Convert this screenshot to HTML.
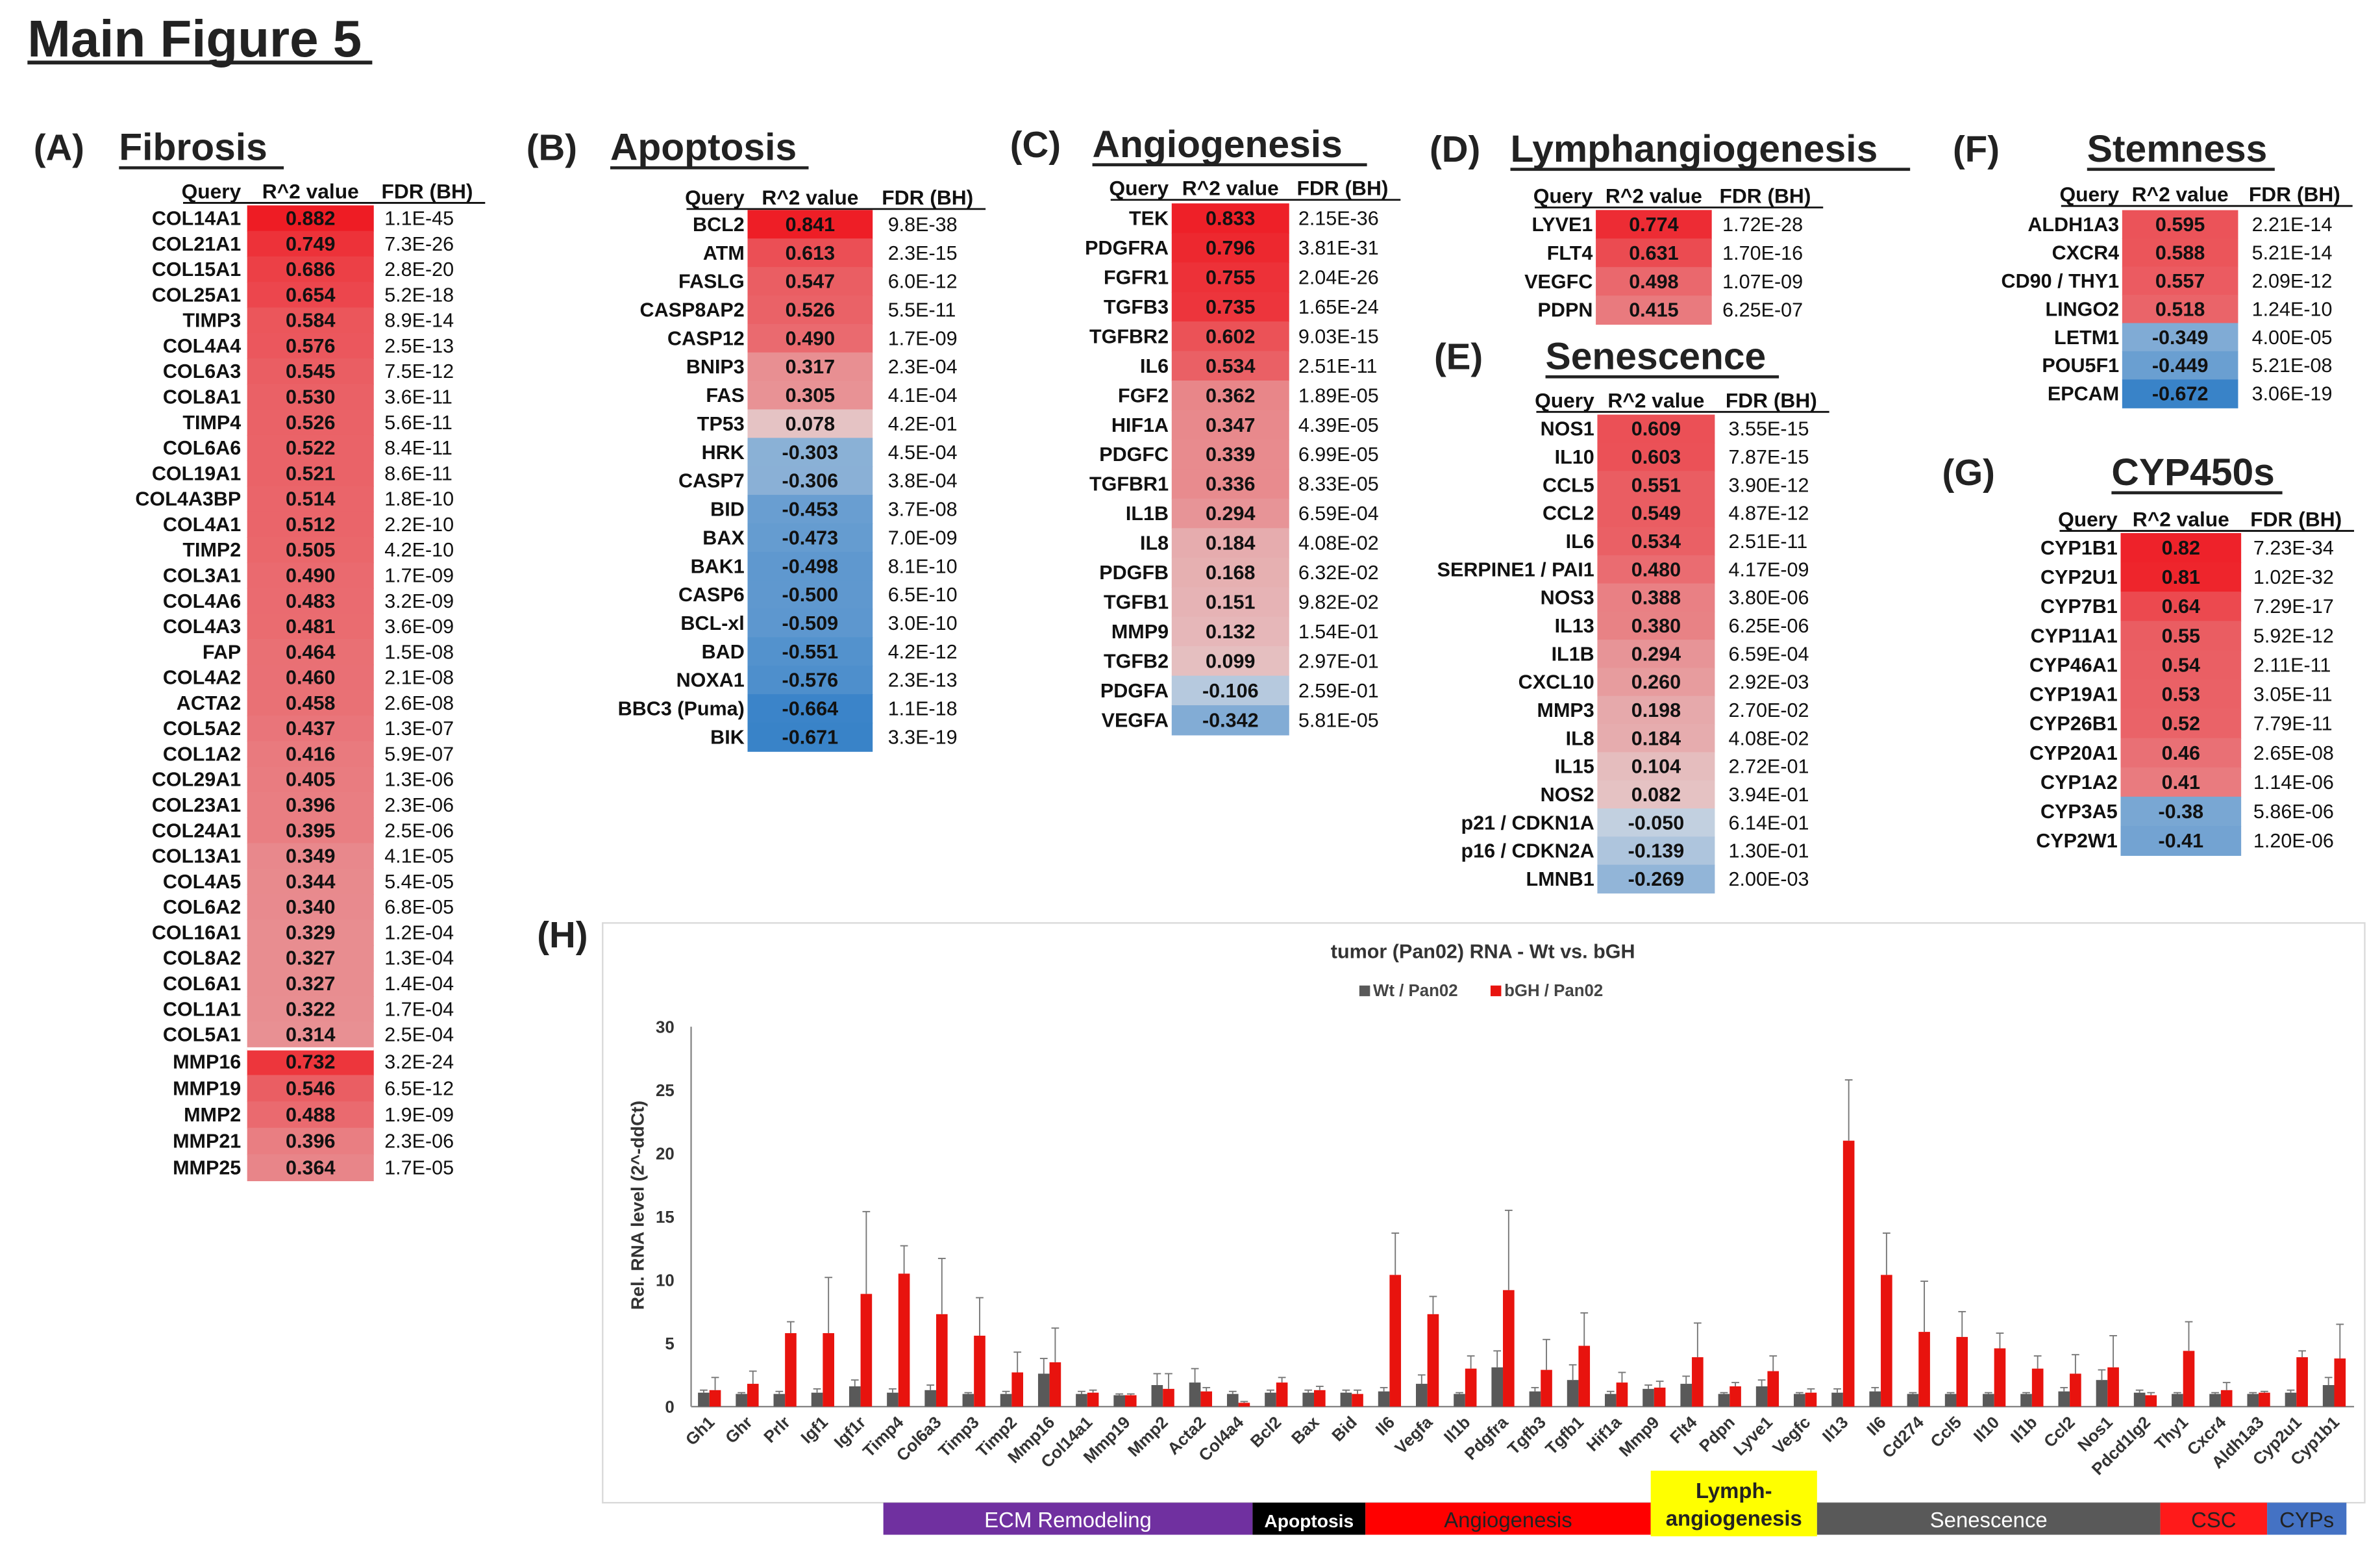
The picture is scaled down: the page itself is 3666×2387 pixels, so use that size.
<!DOCTYPE html>
<html><head><meta charset="utf-8"><style>
html,body{margin:0;padding:0;background:#fff;}
svg{display:block;font-family:"Liberation Sans",Arial,sans-serif;}
</style></head><body>
<svg id="fig" width="3666" height="2387" viewBox="0 0 1560 1016" preserveAspectRatio="none" xmlns="http://www.w3.org/2000/svg">
<rect width="1560" height="1016" fill="#fff"/>
<text x="18" y="37" font-size="34" font-weight="bold" fill="#222">Main Figure 5</text>
<line x1="18" y1="41" x2="244" y2="41" stroke="#222" stroke-width="2.5"/>
<g id="tables"></g>
<g id="chart"></g>
</svg>
<script>
const NS="http://www.w3.org/2000/svg";
function mk(parent,tag,attrs,txt){const e=document.createElementNS(NS,tag);for(const k in attrs)e.setAttribute(k,attrs[k]);if(txt!==undefined)e.textContent=txt;parent.appendChild(e);return e;}
const T=document.getElementById('tables');

// ---- heatmap table data ----
const fibGenes=["COL14A1","COL21A1","COL15A1","COL25A1","TIMP3","COL4A4","COL6A3","COL8A1","TIMP4","COL6A6","COL19A1","COL4A3BP","COL4A1","TIMP2","COL3A1","COL4A6","COL4A3","FAP","COL4A2","ACTA2","COL5A2","COL1A2","COL29A1","COL23A1","COL24A1","COL13A1","COL4A5","COL6A2","COL16A1","COL8A2","COL6A1","COL1A1","COL5A1"];
const fibVals=["0.882","0.749","0.686","0.654","0.584","0.576","0.545","0.530","0.526","0.522","0.521","0.514","0.512","0.505","0.490","0.483","0.481","0.464","0.460","0.458","0.437","0.416","0.405","0.396","0.395","0.349","0.344","0.340","0.329","0.327","0.327","0.322","0.314"];
const fibFdr=["1.1E-45","7.3E-26","2.8E-20","5.2E-18","8.9E-14","2.5E-13","7.5E-12","3.6E-11","5.6E-11","8.4E-11","8.6E-11","1.8E-10","2.2E-10","4.2E-10","1.7E-09","3.2E-09","3.6E-09","1.5E-08","2.1E-08","2.6E-08","1.3E-07","5.9E-07","1.3E-06","2.3E-06","2.5E-06","4.1E-05","5.4E-05","6.8E-05","1.2E-04","1.3E-04","1.4E-04","1.7E-04","2.5E-04"];
const mmpGenes=["MMP16","MMP19","MMP2","MMP21","MMP25"];
const mmpVals=["0.732","0.546","0.488","0.396","0.364"];
const mmpFdr=["3.2E-24","6.5E-12","1.9E-09","2.3E-06","1.7E-05"];
const apoGenes=["BCL2","ATM","FASLG","CASP8AP2","CASP12","BNIP3","FAS","TP53","HRK","CASP7","BID","BAX","BAK1","CASP6","BCL-xl","BAD","NOXA1","BBC3 (Puma)","BIK"];
const apoVals=["0.841","0.613","0.547","0.526","0.490","0.317","0.305","0.078","-0.303","-0.306","-0.453","-0.473","-0.498","-0.500","-0.509","-0.551","-0.576","-0.664","-0.671"];
const apoFdr=["9.8E-38","2.3E-15","6.0E-12","5.5E-11","1.7E-09","2.3E-04","4.1E-04","4.2E-01","4.5E-04","3.8E-04","3.7E-08","7.0E-09","8.1E-10","6.5E-10","3.0E-10","4.2E-12","2.3E-13","1.1E-18","3.3E-19"];
const angGenes=["TEK","PDGFRA","FGFR1","TGFB3","TGFBR2","IL6","FGF2","HIF1A","PDGFC","TGFBR1","IL1B","IL8","PDGFB","TGFB1","MMP9","TGFB2","PDGFA","VEGFA"];
const angVals=["0.833","0.796","0.755","0.735","0.602","0.534","0.362","0.347","0.339","0.336","0.294","0.184","0.168","0.151","0.132","0.099","-0.106","-0.342"];
const angFdr=["2.15E-36","3.81E-31","2.04E-26","1.65E-24","9.03E-15","2.51E-11","1.89E-05","4.39E-05","6.99E-05","8.33E-05","6.59E-04","4.08E-02","6.32E-02","9.82E-02","1.54E-01","2.97E-01","2.59E-01","5.81E-05"];
const lymGenes=["LYVE1","FLT4","VEGFC","PDPN"];
const lymVals=["0.774","0.631","0.498","0.415"];
const lymFdr=["1.72E-28","1.70E-16","1.07E-09","6.25E-07"];
const senGenes=["NOS1","IL10","CCL5","CCL2","IL6","SERPINE1 / PAI1","NOS3","IL13","IL1B","CXCL10","MMP3","IL8","IL15","NOS2","p21 / CDKN1A","p16 / CDKN2A","LMNB1"];
const senVals=["0.609","0.603","0.551","0.549","0.534","0.480","0.388","0.380","0.294","0.260","0.198","0.184","0.104","0.082","-0.050","-0.139","-0.269"];
const senFdr=["3.55E-15","7.87E-15","3.90E-12","4.87E-12","2.51E-11","4.17E-09","3.80E-06","6.25E-06","6.59E-04","2.92E-03","2.70E-02","4.08E-02","2.72E-01","3.94E-01","6.14E-01","1.30E-01","2.00E-03"];
const stemGenes=["ALDH1A3","CXCR4","CD90 / THY1","LINGO2","LETM1","POU5F1","EPCAM"];
const stemVals=["0.595","0.588","0.557","0.518","-0.349","-0.449","-0.672"];
const stemFdr=["2.21E-14","5.21E-14","2.09E-12","1.24E-10","4.00E-05","5.21E-08","3.06E-19"];
const cypGenes=["CYP1B1","CYP2U1","CYP7B1","CYP11A1","CYP46A1","CYP19A1","CYP26B1","CYP20A1","CYP1A2","CYP3A5","CYP2W1"];
const cypVals=["0.82","0.81","0.64","0.55","0.54","0.53","0.52","0.46","0.41","-0.38","-0.41"];
const cypFdr=["7.23E-34","1.02E-32","7.29E-17","5.92E-12","2.11E-11","3.05E-11","7.79E-11","2.65E-08","1.14E-06","5.86E-06","1.20E-06"];

function cellColor(v){
  if(v>=0){const t=Math.min(v/0.85,1);const a=[228,212,212],b=[238,28,36];
    return `rgb(${a.map((c,i)=>Math.round(c+(b[i]-c)*t)).join(',')})`;}
  const t=Math.min(-v/0.68,1);const a=[205,214,226],b=[55,130,200];
  return `rgb(${a.map((c,i)=>Math.round(c+(b[i]-c)*t)).join(',')})`;
}
function panel(label,lx,ly,title,tx,tEnd,name){
  const g=mk(T,'g',{});
  
  
  mk(g,'text',{x:lx,y:ly,'font-size':24,'font-weight':'bold',fill:'#222'},label);
  const t=mk(T,'text',{x:tx,y:ly,'font-size':25,'font-weight':'bold',fill:'#222'},title);
  
  
  mk(T,'line',{x1:tx,y1:ly+5,x2:tEnd,y2:ly+5,stroke:'#222','stroke-width':2});
}
function header(qx,cx0,cx1,fx,y,name){
  const g=mk(T,'g',{'font-size':13.5,'font-weight':'bold',fill:'#111'});
  
  
  mk(g,'text',{x:qx,y:y,'text-anchor':'end'},'Query');
  mk(g,'text',{x:(cx0+cx1)/2,y:y,'text-anchor':'middle'},'R^2 value');
  mk(g,'text',{x:fx,y:y},'FDR (BH)');
  mk(T,'line',{x1:qx-38,y1:y+3,x2:fx+68,y2:y+3,stroke:'#111','stroke-width':1.2});
}
function table(genes,vals,fdrs,qx,cx0,cx1,fx,y0,step,name){
  const g=mk(T,'g',{});
  
  
  genes.forEach((gn,i)=>{
    const yc=y0+i*step, v=parseFloat(vals[i]);
    const r=mk(g,'rect',{x:cx0,y:yc-step/2,width:cx1-cx0,height:step+0.4,fill:cellColor(v)});
    
    
    mk(g,'text',{x:qx,y:yc+4.5,'text-anchor':'end','font-size':13,'font-weight':'bold',fill:'#111'},gn);
    mk(g,'text',{x:(cx0+cx1)/2,y:yc+4.5,'text-anchor':'middle','font-size':13,'font-weight':'bold',fill:'#111'},vals[i]);
    mk(g,'text',{x:fx,y:yc+4.5,'font-size':13,fill:'#111'},fdrs[i]);
  });
}
panel('(A)',22,105,'Fibrosis',78,186,'fibrosis');
header(158,162,245,250,130,'fibrosis');
table(fibGenes,fibVals,fibFdr,158,162,245,252,143,16.72,'fibrosis');
table(mmpGenes,mmpVals,mmpFdr,158,162,245,252,696,17.3,'mmp');
mk(T,'line',{x1:162,y1:687.5,x2:245,y2:687.5,stroke:'#fff','stroke-width':2});
panel('(B)',345,105,'Apoptosis',400,530,'apoptosis');
header(488,490,572,578,134,'apoptosis');
table(apoGenes,apoVals,apoFdr,488,490,572,582,147,18.67,'apoptosis');
panel('(C)',662,103,'Angiogenesis',716,896,'angiogenesis');
header(766,768,845,850,128,'angiogenesis');
table(angGenes,angVals,angFdr,766,768,845,851,143,19.35,'angiogenesis');
panel('(D)',937,106,'Lymphangiogenesis',990,1252,'lymphangiogenesis');
header(1044,1046,1122,1127,133,'lymphangiogenesis');
table(lymGenes,lymVals,lymFdr,1044,1046,1122,1129,147,18.7,'lymphangiogenesis');
panel('(E)',940,242,'Senescence',1013,1166,'senescence');
header(1045,1047,1124,1131,267,'senescence');
table(senGenes,senVals,senFdr,1045,1047,1124,1133,281,18.44,'senescence');
panel('(F)',1280,106,'Stemness',1368,1491,'stemness');
header(1389,1391,1467,1474,132,'stemness');
table(stemGenes,stemVals,stemFdr,1389,1391,1467,1476,147,18.5,'stemness');
panel('(G)',1273,318,'CYP450s',1384,1496,'cyp450s');
header(1388,1390,1469,1475,345,'cyp450s');
table(cypGenes,cypVals,cypFdr,1388,1390,1469,1477,359,19.2,'cyp450s');

// ---- bar chart (H) ----
const categories=["Gh1","Ghr","Prlr","Igf1","Igf1r","Timp4","Col6a3","Timp3","Timp2","Mmp16","Col14a1","Mmp19","Mmp2","Acta2","Col4a4","Bcl2","Bax","Bid","Il6","Vegfa","Il1b","Pdgfra","Tgfb3","Tgfb1","Hif1a","Mmp9","Flt4","Pdpn","Lyve1","Vegfc","Il13","Il6","Cd274","Ccl5","Il10","Il1b","Ccl2","Nos1","Pdcd1lg2","Thy1","Cxcr4","Aldh1a3","Cyp2u1","Cyp1b1"];
const wtValues=[1.1,1.0,1.0,1.1,1.6,1.1,1.3,1.0,1.0,2.6,1.0,0.9,1.7,1.9,1.0,1.1,1.1,1.1,1.2,1.8,1.0,3.1,1.2,2.1,1.0,1.4,1.8,1.0,1.6,1.0,1.1,1.2,1.0,1.0,1.0,1.0,1.2,2.1,1.1,1.0,1.0,1.0,1.1,1.7];
const wtErr=[0.2,0.1,0.2,0.3,0.5,0.3,0.4,0.1,0.2,1.2,0.2,0.1,0.9,1.1,0.2,0.2,0.2,0.2,0.3,0.7,0.1,1.3,0.3,1.2,0.2,0.3,0.6,0.1,0.5,0.1,0.3,0.3,0.1,0.1,0.1,0.1,0.3,0.8,0.2,0.1,0.1,0.1,0.2,0.6];
const bghValues=[1.3,1.8,5.8,5.8,8.9,10.5,7.3,5.6,2.7,3.5,1.1,0.9,1.4,1.2,0.3,1.9,1.3,1.0,10.4,7.3,3.0,9.2,2.9,4.8,1.9,1.5,3.9,1.6,2.8,1.1,21.0,10.4,5.9,5.5,4.6,3.0,2.6,3.1,0.9,4.4,1.3,1.1,3.9,3.8];
const bghErr=[1.0,1.0,0.9,4.4,6.5,2.2,4.4,3.0,1.6,2.7,0.2,0.1,1.2,0.3,0.1,0.4,0.3,0.3,3.3,1.4,1.0,6.3,2.4,2.6,0.8,0.5,2.7,0.3,1.2,0.3,4.8,3.3,4.0,2.0,1.2,1.0,1.5,2.5,0.2,2.3,0.6,0.1,0.5,2.7];
const yTicks=[0,5,10,15,20,25,30];
const groupNames=["ECM Remodeling","Apoptosis","Angiogenesis","Lymph-angiogenesis","Senescence","CSC","CYPs"];

const C=document.getElementById('chart');
const x0=465, xStep=(1530-465)/(categories.length-1);
function xPos(i){return x0+i*xStep;}
function yPos(v){return 922-v*(249/30);}
function barLabel(s){return s.toLowerCase();}
const frame=mk(C,'rect',{x:395,y:605,width:1155,height:380,fill:'none',stroke:'#d9d9d9','stroke-width':1});


const hl=mk(C,'text',{x:352,y:621,'font-size':24,'font-weight':'bold',fill:'#222'},'(H)');


const ct=mk(C,'text',{x:972,y:628,'text-anchor':'middle','font-size':13,'font-weight':'bold',fill:'#333'},'tumor (Pan02) RNA - Wt vs. bGH');


const lg1=mk(C,'g',{});


mk(lg1,'rect',{x:891,y:646,width:7,height:7,fill:'#595959'});
mk(lg1,'text',{x:900,y:653,'font-size':11,'font-weight':'bold',fill:'#444'},'Wt / Pan02');
const lg2=mk(C,'g',{});


mk(lg2,'rect',{x:977,y:646,width:7,height:7,fill:'#e8130e'});
mk(lg2,'text',{x:986,y:653,'font-size':11,'font-weight':'bold',fill:'#444'},'bGH / Pan02');
mk(C,'line',{x1:453,y1:yPos(30),x2:453,y2:yPos(0),stroke:'#888','stroke-width':1});
mk(C,'line',{x1:453,y1:yPos(0),x2:1543,y2:yPos(0),stroke:'#888','stroke-width':1});
yTicks.forEach(t=>{
  const tl=mk(C,'text',{x:442,y:yPos(t)+4,'text-anchor':'end','font-size':11,'font-weight':'bold',fill:'#333'},String(t));
  
  
});
const yt=mk(C,'text',{x:0,y:0,transform:'translate(422,790) rotate(-90)','text-anchor':'middle','font-size':12,'font-weight':'bold',fill:'#333'},'Rel. RNA level (2^-ddCt)');


categories.forEach((c,i)=>{
  const cx=xPos(i), bw=7.5;
  const g=mk(C,'g',{});
  
  
  const b1=mk(g,'rect',{x:cx-bw,y:yPos(wtValues[i]),width:bw,height:yPos(0)-yPos(wtValues[i]),fill:'#595959'});
  
  
  const b2=mk(g,'rect',{x:cx,y:yPos(bghValues[i]),width:bw,height:yPos(0)-yPos(bghValues[i]),fill:'#e8130e'});
  
  
  const e1x=cx-bw/2, e2x=cx+bw/2;
  mk(g,'line',{x1:e1x,y1:yPos(wtValues[i]),x2:e1x,y2:yPos(wtValues[i]+wtErr[i]),stroke:'#777','stroke-width':0.8});
  mk(g,'line',{x1:e1x-2.5,y1:yPos(wtValues[i]+wtErr[i]),x2:e1x+2.5,y2:yPos(wtValues[i]+wtErr[i]),stroke:'#777','stroke-width':0.8});
  mk(g,'line',{x1:e2x,y1:yPos(bghValues[i]),x2:e2x,y2:yPos(bghValues[i]+bghErr[i]),stroke:'#777','stroke-width':0.8});
  mk(g,'line',{x1:e2x-2.5,y1:yPos(bghValues[i]+bghErr[i]),x2:e2x+2.5,y2:yPos(bghValues[i]+bghErr[i]),stroke:'#777','stroke-width':0.8});
  const xl=mk(C,'text',{x:0,y:0,transform:`translate(${cx+4},${933}) rotate(-45)`,'text-anchor':'end','font-size':11,'font-weight':'bold',fill:'#333'},c);
  
  
});
const gx=[[579,821,'#7030a0','#fff'],[821,895,'#000','#fff'],[895,1082,'#ff0000','#222'],[1082,1191,'#ffff00','#222'],[1191,1416,'#595959','#fff'],[1416,1486,'#ff1a1a','#222'],[1486,1538,'#4472c4','#222']];
groupNames.forEach((n,i)=>{
  const [a,b,f,tc]=gx[i];
  const g=mk(C,'g',{});
  
  
  if(i===3){
    mk(g,'rect',{x:a,y:964,width:b-a,height:43,fill:f});
    mk(g,'text',{x:(a+b)/2,y:982,'text-anchor':'middle','font-size':14,'font-weight':'bold',fill:tc},'Lymph-');
    mk(g,'text',{x:(a+b)/2,y:1000,'text-anchor':'middle','font-size':14,'font-weight':'bold',fill:tc},'angiogenesis');
  } else {
    mk(g,'rect',{x:a,y:985,width:b-a,height:21,fill:f});
    mk(g,'text',{x:(a+b)/2,y:1001,'text-anchor':'middle','font-size':i===1?12:14,'font-weight':i===1?'bold':'normal',fill:tc},n);
  }
});
</script>
</body></html>
